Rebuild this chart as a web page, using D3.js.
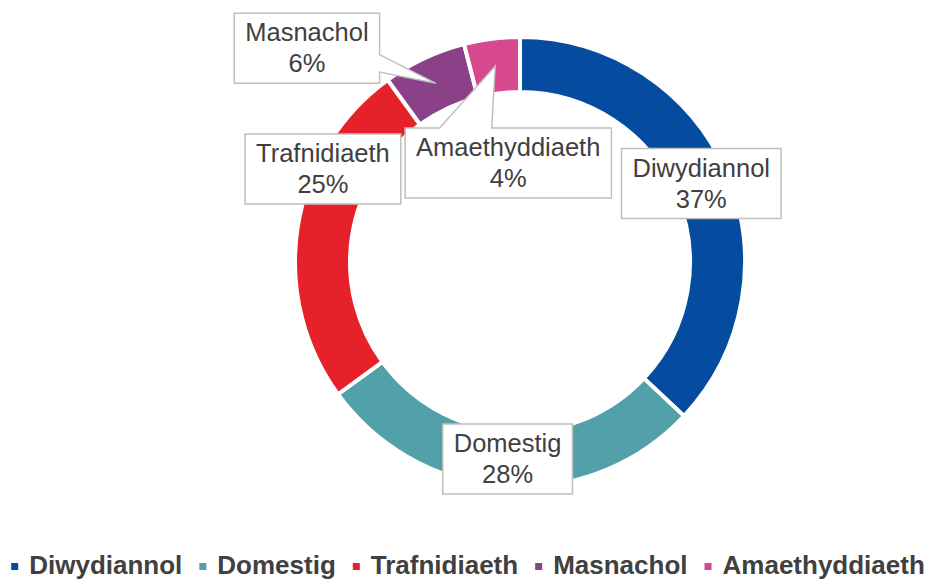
<!DOCTYPE html>
<html>
<head>
<meta charset="utf-8">
<script src="https://cdn.jsdelivr.net/npm/d3@7"></script>
<style>
  body { margin: 0; background: #fff; }
  svg { display: block; font-family: Arial, "Liberation Sans", sans-serif; }
</style>
</head>
<body>
<div id="chart"></div>
<script>
// chart data
const categories = ['Diwydiannol', 'Domestig', 'Trafnidiaeth', 'Masnachol', 'Amaethyddiaeth'];
const shares = [37, 28, 25, 6, 4];
const colors = ['#054ca0', '#52a0a9', '#e62129', '#8a4188', '#d7488e'];

const width = 936, height = 580;
const cx = 520, cy = 262;
const outerR = 225, innerR = 170;

// label placement (offset from arc centroid) and callout wedge settings
const labelLayout = {
  Diwydiannol: { dx: 0, dy: 0 },
  Domestig: { dx: 0, dy: 0 },
  Trafnidiaeth: { dx: -2, dy: -62 },
  Masnachol: { dx: -129, dy: -35, wedge: { side: 'right', from: 0.59, to: 0.84 } },
  Amaethyddiaeth: { dx: 13, dy: 97, wedge: { side: 'top', from: 0.167, to: 0.42 } }
};

const data = categories.map((c, i) => ({ name: c, value: shares[i], color: colors[i] }));

const svg = d3.select('#chart').append('svg')
  .attr('width', width)
  .attr('height', height);

const pie = d3.pie().value(d => d.value).sort(null);
const arc = d3.arc().innerRadius(innerR).outerRadius(outerR);
const arcs = pie(data);

const ring = svg.append('g').attr('transform', `translate(${cx},${cy})`);
ring.selectAll('path')
  .data(arcs)
  .join('path')
  .attr('d', arc)
  .attr('fill', d => d.data.color)
  .attr('stroke', '#fff')
  .attr('stroke-width', 4);

// data labels
const labelG = svg.append('g');
const boxH = 70, padX = 11;

arcs.forEach(a => {
  const [px, py] = arc.centroid(a);
  const tipX = cx + px, tipY = cy + py;
  const lay = labelLayout[a.data.name];
  const lx = tipX + lay.dx, ly = tipY + lay.dy;

  const g = labelG.append('g');
  const box = g.append('path');
  const t1 = g.append('text')
    .attr('x', lx).attr('y', ly - 7)
    .attr('text-anchor', 'middle')
    .attr('font-size', 25.5)
    .attr('fill', '#404040')
    .text(a.data.name);
  g.append('text')
    .attr('x', lx).attr('y', ly + 24)
    .attr('text-anchor', 'middle')
    .attr('font-size', 25.5)
    .attr('fill', '#404040')
    .text(a.data.value + '%');

  const w = t1.node().getComputedTextLength() + padX * 2;
  const x0 = lx - w / 2, x1 = lx + w / 2, y0 = ly - boxH / 2, y1 = ly + boxH / 2;
  let pts;
  if (lay.wedge && lay.wedge.side === 'right') {
    const a0 = y0 + boxH * lay.wedge.from, a1 = y0 + boxH * lay.wedge.to;
    pts = [[x0, y0], [x1, y0], [x1, a0], [tipX, tipY], [x1, a1], [x1, y1], [x0, y1]];
  } else if (lay.wedge && lay.wedge.side === 'top') {
    const a0 = x0 + w * lay.wedge.from, a1 = x0 + w * lay.wedge.to;
    pts = [[x0, y0], [a0, y0], [tipX, tipY], [a1, y0], [x1, y0], [x1, y1], [x0, y1]];
  } else {
    pts = [[x0, y0], [x1, y0], [x1, y1], [x0, y1]];
  }
  box.attr('d', d3.line()(pts) + 'Z')
    .attr('fill', '#fff')
    .attr('stroke', '#bfbfbf')
    .attr('stroke-width', 1.5);
});

// legend
const legend = svg.append('g');
const mark = 7, markGap = 11, itemGap = 17, legY = 574;
let lxPos = 0;
data.forEach(d => {
  const item = legend.append('g').attr('transform', `translate(${lxPos},0)`);
  item.append('rect')
    .attr('x', 0).attr('y', legY - 11)
    .attr('width', mark).attr('height', mark)
    .attr('fill', d.color);
  const t = item.append('text')
    .attr('x', mark + markGap).attr('y', legY)
    .attr('font-size', 26)
    .attr('font-weight', 'bold')
    .attr('fill', '#404040')
    .text(d.name);
  lxPos += mark + markGap + t.node().getComputedTextLength() + itemGap;
});
const legW = lxPos - itemGap;
legend.attr('transform', `translate(${(width - legW) / 2},0)`);
</script>
</body>
</html>
